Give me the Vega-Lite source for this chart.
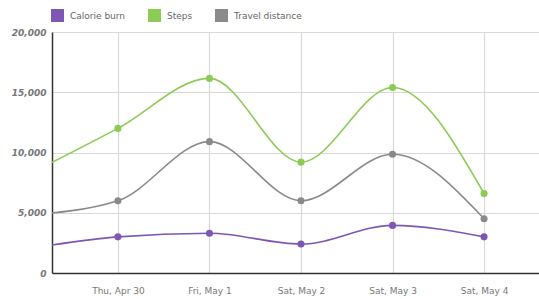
{
  "$schema": "https://vega.github.io/schema/vega-lite/v6.json",
  "width": 487,
  "height": 241,
  "autosize": {"type": "none"},
  "padding": {"left": 52, "top": 32, "right": 0, "bottom": 26},
  "background": "white",
  "config": {
    "view": {"stroke": null},
    "font": "DejaVu Sans"
  },
  "data": {
    "values": [
      {"i": 0, "series": "Calorie burn", "value": 2000},
      {"i": 1, "series": "Calorie burn", "value": 3000},
      {"i": 2, "series": "Calorie burn", "value": 3300},
      {"i": 3, "series": "Calorie burn", "value": 2400},
      {"i": 4, "series": "Calorie burn", "value": 3950},
      {"i": 5, "series": "Calorie burn", "value": 3000},
      {"i": 0, "series": "Steps", "value": 8100},
      {"i": 1, "series": "Steps", "value": 12000},
      {"i": 2, "series": "Steps", "value": 16150},
      {"i": 3, "series": "Steps", "value": 9200},
      {"i": 4, "series": "Steps", "value": 15400},
      {"i": 5, "series": "Steps", "value": 6600},
      {"i": 0, "series": "Travel distance", "value": 4800},
      {"i": 1, "series": "Travel distance", "value": 6000},
      {"i": 2, "series": "Travel distance", "value": 10900},
      {"i": 3, "series": "Travel distance", "value": 6000},
      {"i": 4, "series": "Travel distance", "value": 9850},
      {"i": 5, "series": "Travel distance", "value": 4500}
    ]
  },
  "encoding": {
    "x": {
      "field": "i",
      "type": "quantitative",
      "scale": {"domain": [0.28, 5.6], "nice": false, "zero": false},
      "axis": {
        "title": null,
        "values": [1, 2, 3, 4, 5],
        "labelExpr": "['','Thu, Apr 30','Fri, May 1','Sat, May 2','Sat, May 3','Sat, May 4'][datum.value]",
        "ticks": false,
        "domainColor": "#333333",
        "domainWidth": 1.5,
        "gridColor": "#d9d9d9",
        "gridWidth": 1.2,
        "labelColor": "#777777",
        "labelFontSize": 9,
        "labelPadding": 13
      }
    },
    "y": {
      "field": "value",
      "type": "quantitative",
      "scale": {"domain": [0, 20000], "nice": false},
      "axis": {
        "title": null,
        "values": [0, 5000, 10000, 15000, 20000],
        "labelExpr": "format(datum.value, ',d')",
        "ticks": false,
        "domainColor": "#333333",
        "domainWidth": 1.5,
        "gridColor": "#d9d9d9",
        "gridWidth": 1.2,
        "labelColor": "#777777",
        "labelFontSize": 9,
        "labelFontWeight": "bold",
        "labelFontStyle": "italic",
        "labelPadding": 6
      }
    },
    "color": {
      "field": "series",
      "type": "nominal",
      "scale": {
        "domain": ["Calorie burn", "Steps", "Travel distance"],
        "range": ["#7E57B5", "#8CCB55", "#8A8A8A"]
      },
      "legend": {
        "title": null,
        "orient": "none",
        "legendX": -1,
        "legendY": -23,
        "direction": "horizontal",
        "symbolType": "square",
        "symbolSize": 169,
        "symbolStrokeWidth": 0,
        "symbolOpacity": 1,
        "labelFontSize": 9,
        "labelColor": "#666666",
        "columnPadding": 22,
        "labelOffset": 6
      }
    }
  },
  "layer": [
    {
      "mark": {"type": "line", "interpolate": "monotone", "strokeWidth": 1.6, "clip": true}
    },
    {
      "mark": {"type": "point", "filled": true, "size": 50, "opacity": 1, "clip": true}
    }
  ]
}
